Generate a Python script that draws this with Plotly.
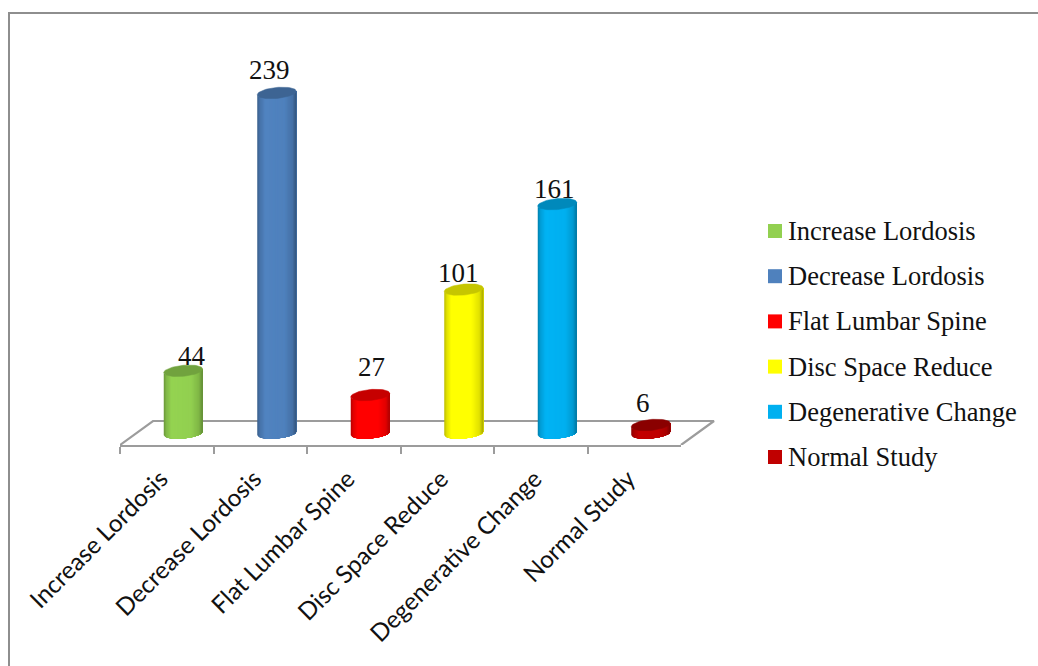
import numpy as np
import plotly.graph_objects as go

# Chart data
categories = ["Increase Lordosis", "Decrease Lordosis", "Flat Lumbar Spine",
              "Disc Space Reduce", "Degenerative Change", "Normal Study"]
values = [44, 239, 27, 101, 161, 6]
colors = ["#92D050", "#4F81BD", "#FF0000", "#FFFF00", "#00B0F0", "#C00000"]
top_shade = [0.78, 0.78, 0.78, 0.78, 0.78, 0.72]

# Page and plot geometry, in pixels
W, H = 1038, 666
AXIS_LEFT, AXIS_RIGHT = 120, 681
OVERLAY_RIGHT = 730
AXIS_BOTTOM, AXIS_TOP = 445, 40
BASE_Y = 433.5
FLOOR_BACK_Y = 421
FLOOR_DEPTH = 33
PX_PER_VALUE = 1.425
PX_PER_CAT = (AXIS_RIGHT - AXIS_LEFT) / len(categories)

# Cylinder look, in pixels
DEPTH_DX = 16.5
RADIUS = 19.5
ELLIPSE_H = 5
TILT = 0.09
N_STRIPS = 36

# Nudges of the value labels relative to each cylinder's top centre
label_dx = [9, -7, 1, -5, -3, -8]
label_dy = [15, 23, 28, 17, 15, 22]

AXIS_GREY = "#9C9C9C"
FRAME_GREY = "#8E8E8E"


def px_x(p):
    return p / W


def px_y(p):
    return 1 - p / H


def shade(hex_color, f):
    rgb = [int(hex_color[i:i + 2], 16) for i in (1, 3, 5)]
    return "rgb({},{},{})".format(*[int(min(255, c * f)) for c in rgb])


def side_factor(t):
    return np.interp(t, [0, 0.06, 0.2, 0.7, 0.9, 1], [0.72, 0.88, 1.02, 1.0, 0.88, 0.66])


def rim(dx, centre_value):
    """Value on the front of an elliptical rim at a pixel offset from the cylinder's axis."""
    arc = ELLIPSE_H * np.sqrt(np.clip(1 - (dx / RADIUS) ** 2, 0, 1))
    return centre_value + (TILT * dx - arc) / PX_PER_VALUE


fig = go.Figure()

# Carries the category axis and the values themselves
fig.add_trace(go.Scatter(x=categories, y=values, mode="markers", marker=dict(opacity=0),
                         xaxis="x", yaxis="y", hoverinfo="skip", showlegend=False))

# Floor of the chart, behind the cylinders
floor_depth = FLOOR_DEPTH / PX_PER_CAT
floor_front = -(AXIS_BOTTOM - BASE_Y) / PX_PER_VALUE
floor_back = (BASE_Y - FLOOR_BACK_Y) / PX_PER_VALUE
fig.add_trace(go.Scatter(
    x=[-0.5, -0.5 + floor_depth, 5.5 + floor_depth, 5.5],
    y=[floor_front, floor_back, floor_back, floor_front],
    mode="lines", line=dict(color=AXIS_GREY, width=2.2),
    xaxis="x2", yaxis="y", hoverinfo="skip", showlegend=False))

# Cylinders: each shaded strip runs to the right edge and is overpainted by the next,
# then the darker elliptical top face goes on last
for i, (name, value, color) in enumerate(zip(categories, values, colors)):
    centre = i + DEPTH_DX / PX_PER_CAT
    edges = np.linspace(-RADIUS, RADIUS, N_STRIPS + 1)
    for k in range(N_STRIPS):
        t = (k + 0.5) / N_STRIPS
        span = edges[k:]
        xs = centre + np.concatenate([span, span[::-1]]) / PX_PER_CAT
        ys = np.concatenate([rim(span, 0), rim(span[::-1], value)])
        fig.add_trace(go.Scatter(x=xs, y=ys, mode="lines", fill="toself",
                                 fillcolor=shade(color, side_factor(t)),
                                 line=dict(width=0), xaxis="x2", yaxis="y",
                                 hoverinfo="skip", showlegend=False))
    theta = np.linspace(0, 2 * np.pi, 61)
    dx = RADIUS * np.cos(theta)
    dy = (ELLIPSE_H + 0.5) * np.sin(theta)
    fig.add_trace(go.Scatter(
        x=centre + dx / PX_PER_CAT,
        y=value + (TILT * dx + dy) / PX_PER_VALUE,
        mode="lines", fill="toself", fillcolor=shade(color, top_shade[i]),
        line=dict(color=shade(color, top_shade[i]), width=0.5),
        xaxis="x2", yaxis="y", hoverinfo="skip", showlegend=False))

annotations = []
shapes = []

# Value labels above the cylinders
for i, value in enumerate(values):
    annotations.append(dict(
        x=i, y=value, xref="x2", yref="y", text=str(value), showarrow=False,
        xshift=DEPTH_DX + label_dx[i], yshift=label_dy[i], yanchor="middle",
        font=dict(family="Liberation Serif", size=27, color="#111111")))

# Key on the right
LEGEND_SWATCH_X = 768
LEGEND_TEXT_X = 788
LEGEND_TOP = 224
LEGEND_STEP = 45.2
SWATCH = 14
for i, (name, color) in enumerate(zip(categories, colors)):
    top = LEGEND_TOP + i * LEGEND_STEP
    shapes.append(dict(type="rect", xref="paper", yref="paper",
                       x0=px_x(LEGEND_SWATCH_X), x1=px_x(LEGEND_SWATCH_X + SWATCH),
                       y0=px_y(top), y1=px_y(top + SWATCH),
                       fillcolor=color, line=dict(width=0)))
    annotations.append(dict(
        x=px_x(LEGEND_TEXT_X), y=px_y(top + SWATCH / 2), xref="paper", yref="paper",
        text=name, showarrow=False, xanchor="left", yanchor="middle", xshift=-2,
        font=dict(family="Liberation Serif", size=26.5, color="#111111")))

# Outer frame: only the top and left edges fall on the page
shapes.append(dict(type="line", xref="paper", yref="paper", x0=px_x(9), x1=1,
                   y0=px_y(13), y1=px_y(13), line=dict(color=FRAME_GREY, width=2)))
shapes.append(dict(type="line", xref="paper", yref="paper", x0=px_x(9), x1=px_x(9),
                   y0=px_y(12), y1=0, line=dict(color=FRAME_GREY, width=2)))

fig.update_layout(
    width=W, height=H,
    margin=dict(l=0, r=0, t=0, b=0, pad=0),
    paper_bgcolor="white", plot_bgcolor="rgba(0,0,0,0)",
    showlegend=False, hovermode=False,
    annotations=annotations, shapes=shapes,
    xaxis=dict(type="category", categoryorder="array", categoryarray=categories,
               range=[-0.5, 5.5], domain=[px_x(AXIS_LEFT), px_x(AXIS_RIGHT)], anchor="y",
               tickson="boundaries", ticks="outside", ticklen=7, tickwidth=2,
               tickcolor=AXIS_GREY, showline=True, linecolor=AXIS_GREY, linewidth=2,
               showgrid=False, zeroline=False, tickangle=-45, automargin=False,
               ticklabelstandoff=8, ticklabelshift=-6,
               tickfont=dict(family="Lato", size=24.3, color="#111111")),
    # Same scale as the category axis, running further right for the floor's far corner
    xaxis2=dict(type="linear",
                range=[-0.5, -0.5 + (OVERLAY_RIGHT - AXIS_LEFT) / PX_PER_CAT],
                domain=[px_x(AXIS_LEFT), px_x(OVERLAY_RIGHT)],
                anchor="y", visible=False),
    yaxis=dict(type="linear", domain=[px_y(AXIS_BOTTOM), px_y(AXIS_TOP)],
               range=[-(AXIS_BOTTOM - BASE_Y) / PX_PER_VALUE, (BASE_Y - AXIS_TOP) / PX_PER_VALUE],
               visible=False, showgrid=False, zeroline=False),
)

fig.write_html("out.html", config=dict(displayModeBar=False))
